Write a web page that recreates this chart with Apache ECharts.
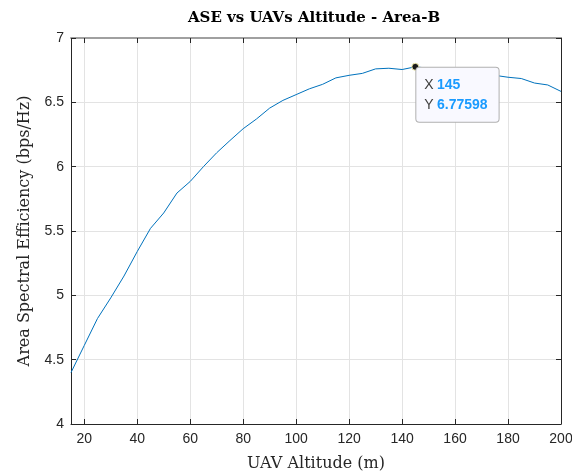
<!DOCTYPE html>
<html>
<head>
<meta charset="utf-8">
<script src="https://cdn.jsdelivr.net/npm/echarts@6/dist/echarts.min.js"></script>
<style>
html,body{margin:0;padding:0;background:#fff;}
#chart{width:572px;height:471px;}
</style>
</head>
<body>
<div id="chart"></div>
<script>
const altitude = [15,20,25,30,35,40,45,50,55,60,65,70,75,80,85,90,95,100,105,110,115,120,125,130,135,140,145,150,155,160,165,170,175,180,185,190,195,200];
const ase = [4.40,4.61,4.82,4.98,5.15,5.34,5.52,5.64,5.795,5.885,6.00,6.108,6.203,6.295,6.37,6.455,6.515,6.56,6.605,6.64,6.69,6.71,6.725,6.76,6.765,6.755,6.77598,6.765,6.77,6.76,6.745,6.73,6.71,6.695,6.685,6.65,6.635,6.585];
const xTicks = [20,40,60,80,100,120,140,160,180,200];
const yTicks = [4,4.5,5,5.5,6,6.5,7];
const tipPoint = [145, 6.77598];
const titleText = 'ASE vs UAVs Altitude - Area-B';
const xName = 'UAV Altitude (m)';
const yName = 'Area Spectral Efficiency (bps/Hz)';

const chart = echarts.init(document.getElementById('chart'), null, {renderer:'canvas'});
const axisColor = '#262626';
const gridColor = '#e3e3e3';
const tickFont = {fontFamily:'Liberation Sans', fontSize:14, color:'#262626'};
const nameFont = {fontFamily:'DejaVu Serif', fontSize:16, color:'#262626'};

const baseX = {
  type:'value', min:15, max:200,
  axisTick:{show:true, inside:true, length:5, customValues:xTicks, lineStyle:{color:axisColor}},
  axisLabel:{show:false},
  splitLine:{show:false}
};
const baseY = {
  type:'value', min:4, max:7, interval:0.5,
  axisTick:{show:true, inside:true, length:5, lineStyle:{color:axisColor}},
  axisLabel:{show:false},
  splitLine:{show:false}
};

chart.setOption({
  animation:false,
  backgroundColor:'#ffffff',
  title:{
    text:titleText, left:309, top:6, textAlign:'center',
    textStyle:{fontFamily:'DejaVu Serif', fontWeight:'bold', fontSize:15, color:'#000'}
  },
  grid:{left:71, right:11, top:38, bottom:47, containLabel:false, outerBoundsMode:'none'},
  xAxis:[
    Object.assign({}, baseX, {
      position:'bottom',
      axisLine:{show:true, onZero:false, lineStyle:{color:axisColor, width:1}},
      axisLabel:Object.assign({show:true, margin:8, customValues:xTicks}, tickFont),
      splitLine:{show:true, lineStyle:{color:gridColor, width:1}},
      name:xName, nameLocation:'middle', nameGap:32,
      nameTextStyle:nameFont
    }),
    Object.assign({}, baseX, {
      position:'top',
      axisLine:{show:true, onZero:false, lineStyle:{color:'#a0a0a0', width:2}}
    })
  ],
  yAxis:[
    Object.assign({}, baseY, {
      position:'left',
      axisLine:{show:true, onZero:false, lineStyle:{color:axisColor, width:1}},
      axisLabel:Object.assign({show:true, margin:7, customValues:yTicks, formatter:v=>String(v)}, tickFont),
      splitLine:{show:true, lineStyle:{color:gridColor, width:1}},
      name:yName, nameLocation:'middle', nameGap:38,
      nameTextStyle:nameFont
    }),
    Object.assign({}, baseY, {
      position:'right',
      axisLine:{show:true, onZero:false, lineStyle:{color:axisColor, width:1}}
    })
  ],
  series:[{
    type:'line',
    xAxisIndex:0, yAxisIndex:0,
    data:altitude.map((x,i)=>[x, ase[i]]),
    showSymbol:false,
    symbol:'none',
    lineStyle:{color:'#0072BD', width:1},
    markPoint:{
      symbol:'circle', symbolSize:7,
      itemStyle:{color:'#1a1a1a', borderColor:'#f5f0b0', borderWidth:1},
      data:[{coord:tipPoint, value:tipPoint[1]}],
      label:{
        show:true,
        position:[5,5],
        formatter:'{k|X} {v|' + tipPoint[0] + '}\n{k|Y} {v|' + tipPoint[1] + '}',
        backgroundColor:'#f9f9ff',
        borderColor:'#b0b0b0', borderWidth:1, borderRadius:3,
        padding:[7,11,7,8],
        rich:{
          k:{fontFamily:'Liberation Sans', fontSize:14, color:'#404040', lineHeight:20},
          v:{fontFamily:'Liberation Sans', fontSize:14, fontWeight:'bold', color:'#1a9bff', lineHeight:20}
        }
      }
    }
  }]
});
</script>
</body>
</html>
